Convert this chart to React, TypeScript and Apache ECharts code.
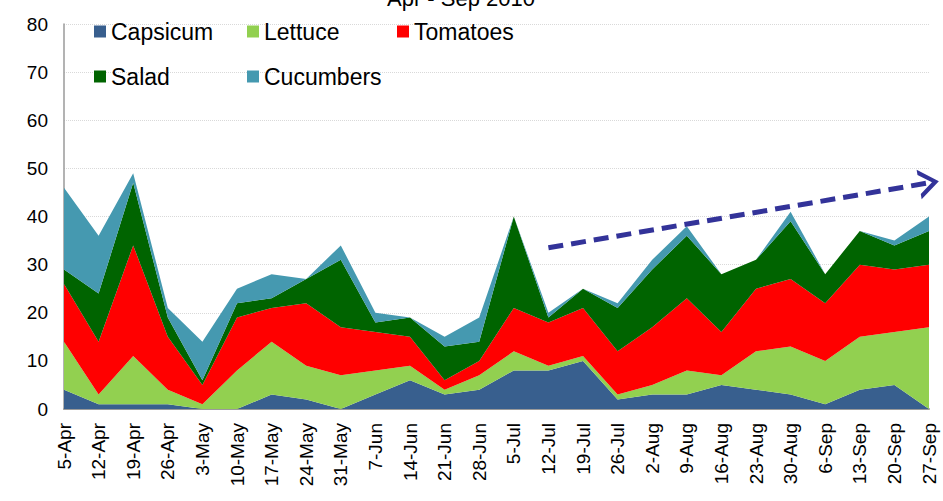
import React, { useEffect, useRef } from "react";
import * as echarts from "echarts";

const categories = [
  "5-Apr", "12-Apr", "19-Apr", "26-Apr", "3-May", "10-May", "17-May", "24-May", "31-May",
  "7-Jun", "14-Jun", "21-Jun", "28-Jun", "5-Jul", "12-Jul", "19-Jul", "26-Jul",
  "2-Aug", "9-Aug", "16-Aug", "23-Aug", "30-Aug", "6-Sep", "13-Sep", "20-Sep", "27-Sep",
];

const capsicum = [4, 1, 1, 1, 0, 0, 3, 2, 0, 3, 6, 3, 4, 8, 8, 10, 2, 3, 3, 5, 4, 3, 1, 4, 5, 0];
const lettuce = [10, 2, 10, 3, 1, 8, 11, 7, 7, 5, 3, 1, 3, 4, 1, 1, 1, 2, 5, 2, 8, 10, 9, 11, 11, 17];
const tomatoes = [12, 11, 23, 11, 4, 11, 7, 13, 10, 8, 6, 2, 3, 9, 9, 10, 9, 12, 15, 9, 13, 14, 12, 15, 13, 13];
const salad = [3, 10, 13, 4, 1, 3, 2, 5, 14, 2, 4, 7, 4, 19, 1, 4, 9, 12, 13, 12, 6, 12, 6, 7, 5, 7];
const cucumbers = [17, 12, 2, 2, 8, 3, 5, 0, 3, 2, 0, 2, 5, 0, 1, 0, 1, 2, 2, 0, 0, 2, 0, 0, 1, 3];

const yTicks = { min: 0, max: 80, interval: 10 };
const trendStart = { category: "12-Jul", value: 33.5 };
const trendEnd = { category: "27-Sep", value: 47 };
const titleText = "Apr - Sep 2010";

const FONT = "'Liberation Sans', Arial, sans-serif";

const seriesDefs = [
  { name: "Capsicum", data: capsicum, color: "#385F8E" },
  { name: "Lettuce", data: lettuce, color: "#92D050" },
  { name: "Tomatoes", data: tomatoes, color: "#FF0000" },
  { name: "Salad", data: salad, color: "#006400" },
  { name: "Cucumbers", data: cucumbers, color: "#4599B0" },
];

const legendPos: Record<string, [number, number]> = {
  Capsicum: [94, 20],
  Lettuce: [247, 20],
  Tomatoes: [397, 20],
  Salad: [94, 65],
  Cucumbers: [247, 65],
};

export default function App() {
  const ref = useRef<HTMLDivElement>(null);

  useEffect(() => {
    if (!ref.current) return;
    const chart = echarts.init(ref.current, null, { renderer: "svg" });

    const series: any[] = seriesDefs.map((s) => ({
      name: s.name,
      type: "line",
      stack: "total",
      data: s.data,
      showSymbol: false,
      symbol: "none",
      lineStyle: { width: 0 },
      areaStyle: { color: s.color, opacity: 1 },
      itemStyle: { color: s.color },
      emphasis: { disabled: true },
    }));

    series.push({
      name: "trend",
      type: "line",
      data: [],
      silent: true,
      markLine: {
        silent: true,
        animation: false,
        label: { show: false },
        lineStyle: { color: "#333399", width: 5, type: [15, 8] },
        data: [
          [
            { coord: [trendStart.category, trendStart.value], symbol: "none" },
            {
              coord: [trendEnd.category, trendEnd.value],
              symbol: "path://M0,20 L10,0 L20,20 L16.5,20 L10,7 L3.5,20 Z",
              symbolSize: [30, 20],
            },
          ],
        ],
      },
    });

    const legends = seriesDefs.map((s) => ({
      data: [s.name],
      left: legendPos[s.name][0],
      top: legendPos[s.name][1],
      padding: 0,
      icon: "rect",
      itemWidth: 12,
      itemHeight: 12,
      selectedMode: false,
      textStyle: { fontSize: 23, color: "#000", fontFamily: FONT },
    }));

    chart.setOption({
      animation: false,
      backgroundColor: "#fff",
      grid: { left: 64, right: 14, top: 24, bottom: 92, containLabel: false },
      legend: legends,
      graphic: [
        {
          type: "text",
          silent: true,
          style: {
            x: 461,
            y: 9,
            text: titleText,
            textAlign: "center",
            textVerticalAlign: "bottom",
            fontSize: 22,
            fontFamily: FONT,
            fill: "#000",
          },
        },
      ],
      xAxis: {
        type: "category",
        data: categories,
        boundaryGap: false,
        axisLine: { show: true, lineStyle: { color: "#9a9a9a", width: 2 } },
        axisTick: { show: false },
        splitLine: { show: false },
        axisLabel: {
          interval: 0,
          rotate: 90,
          fontSize: 19,
          margin: 14,
          color: "#000",
          fontFamily: FONT,
        },
      },
      yAxis: {
        type: "value",
        min: yTicks.min,
        max: yTicks.max,
        interval: yTicks.interval,
        axisLine: { show: true, lineStyle: { color: "#9a9a9a", width: 1.5 } },
        axisTick: { show: false },
        splitLine: { show: true, lineStyle: { color: "#d9d9d9", type: "dotted", width: 1 } },
        axisLabel: { fontSize: 19, margin: 16, color: "#000", fontFamily: FONT },
      },
      series,
    });

    return () => chart.dispose();
  }, []);

  return (
    <div
      ref={ref}
      style={{ position: "fixed", left: 0, top: 0, width: 943, height: 501, background: "#fff" }}
    />
  );
}
